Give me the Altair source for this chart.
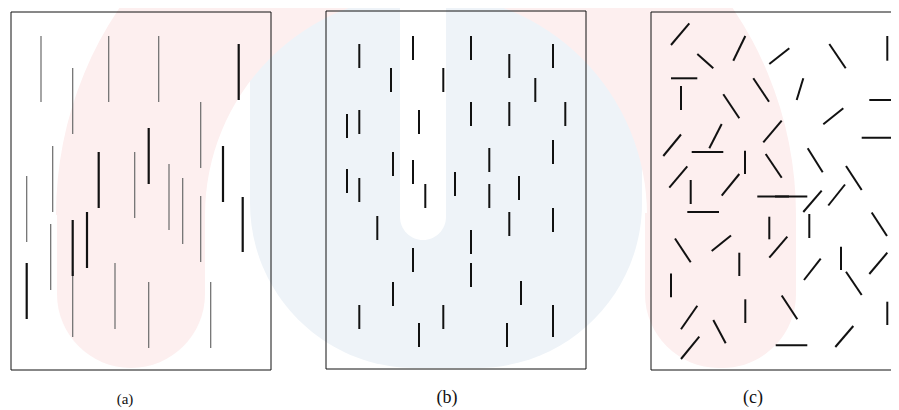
import math
import altair as alt
import pandas as pd

# ---------------- data (page pixel coordinates) ----------------
# panel (a): vertical segments, x, top, bottom, weight
A_X = [41, 72.7, 108.7, 158.7, 238.7, 200.7, 52.7, 98.7, 134.7, 148.7, 169, 182.7,
       223, 26.7, 50.7, 72.7, 72.7, 87, 200.7, 242.7, 26.7, 115, 148.7, 210.7]
A_Y1 = [36, 68, 36, 36, 44, 102, 146, 152, 152, 128, 164, 178,
        146, 176, 224, 220, 271, 212, 196, 197, 263, 263, 282, 282]
A_Y2 = [102, 134, 102, 102, 100, 168, 212, 208, 218, 184, 230, 244,
        202, 242, 290, 276, 337, 268, 262, 252, 319, 329, 348, 348]
A_W = ["thin", "thin", "thin", "thin", "thick", "thin", "thin", "thick", "thin", "thick", "thin", "thin",
       "thick", "thin", "thin", "thick", "thin", "thick", "thin", "thick", "thick", "thin", "thin", "thin"]

# panel (b): short vertical segments
B_X = [359.3, 413, 471, 509.3, 553, 391, 443.3, 535.3, 347, 359.3, 419, 471, 509.3, 565.3,
       489.3, 553, 393, 413, 347, 359.3, 425.3, 455, 489.3, 519, 377.3, 509.3, 553, 471,
       413, 471, 393, 521, 359.3, 443.3, 419, 507, 553]
B_Y1 = [44, 36, 36, 54, 44, 68, 68, 78, 114, 110, 110, 102, 102, 102,
        148, 140, 152, 160, 169, 178, 184, 172, 184, 176, 216, 212, 208, 230,
        248, 263, 282, 281, 305, 305, 323, 323, 305]
B_Y2 = [68, 60, 60, 78, 68, 92, 92, 102, 138, 134, 134, 126, 126, 126,
        172, 164, 176, 184, 193, 202, 208, 196, 208, 200, 240, 236, 232, 254,
        272, 287, 306, 305, 329, 329, 347, 347, 337]

# panel (c): randomly oriented segments (x1, y1, x2, y2)
C_X1 = [671, 697.3, 733.3, 769.3, 829.3, 887.3, 671, 681, 753.3, 796.7, 723.3, 869.3, 823.3,
        861.7, 663.3, 709.3, 691.7, 763.3, 745, 765.7, 807.7, 846, 898.3, 669.3, 690.7, 721.7,
        687.3, 757.3, 775, 803.3, 828.3, 769.3, 809.3, 871.7, 675, 711.7, 769.3, 739.3, 804,
        841, 869.3, 846, 671, 681, 713.3, 745.3, 781.7, 887.3, 681, 775.7, 835.3]
C_Y1 = [45, 54, 60.7, 64, 44, 36, 78.3, 86, 78.3, 100, 94.3, 100, 124.3,
        137.7, 156, 148.3, 152, 142.3, 150.7, 154, 148.3, 166, 168.3, 187.7, 180, 195.7,
        212, 196.5, 196.5, 212, 205.5, 216.7, 214, 212.5, 238.5, 251, 257.7, 252.7, 280,
        246.7, 274, 271.7, 273.5, 329.3, 320, 299.3, 295.5, 301.7, 359, 345.3, 347]
C_X2 = [689.3, 713.3, 745.3, 789.3, 845.7, 887.3, 697.3, 681, 769, 803.3, 739.3, 899.3, 843.3,
        893.3, 681, 721.7, 723.3, 781.7, 745, 781.7, 822.7, 861.7, 898.3, 687.3, 690.7, 739.3,
        719, 789, 807.3, 821.7, 845, 769.3, 809.3, 887, 690.7, 731, 787.3, 739.3, 820.7,
        841, 887.3, 861.7, 671, 697.3, 725.7, 745.3, 797.3, 887.3, 699.3, 807.3, 853.3]
C_Y2 = [23.3, 68.3, 36, 48.3, 68.3, 60.7, 78.3, 110, 101.7, 78.3, 118.3, 100, 108.3,
        137.7, 134.5, 124, 152, 120.7, 174, 177.7, 172.3, 190, 192, 166.3, 204, 174,
        212, 196.5, 196.5, 190.7, 184.5, 239.3, 238, 236, 262.3, 235.5, 236.7, 276, 258.7,
        270, 252.7, 295, 297.3, 305.7, 343.3, 323, 319.3, 325, 336.7, 345.3, 326]

PANEL_LEFT = [11, 326, 651]
PANEL_TOP = [12, 11, 12]
PANEL_RIGHT = [271, 586, 911]
PANEL_BOTTOM = [370, 369, 370]

LABELS = ["(a)", "(b)", "(c)"]
LABEL_X = [125, 447, 753]
LABEL_Y = [399, 398, 398]
LABEL_SIZE = [15, 18, 18]

# ---------------- tables ----------------
df_a = pd.DataFrame({"x": A_X, "y1": A_Y1, "y2": A_Y2, "w": A_W})
df_b = pd.DataFrame({"x": B_X, "y1": B_Y1, "y2": B_Y2})
df_c = pd.DataFrame({"x1": C_X1, "y1": C_Y1, "x2": C_X2, "y2": C_Y2})
df_t = pd.DataFrame({"label": LABELS, "x": LABEL_X, "y": LABEL_Y, "fs": LABEL_SIZE})

# panel frames as four edges each
edges = []
for l, t, r, b in zip(PANEL_LEFT, PANEL_TOP, PANEL_RIGHT, PANEL_BOTTOM):
    edges += [(l, t, r, t), (l, b, r, b), (l, t, l, b), (r, t, r, b)]
df_e = pd.DataFrame(edges, columns=["x1", "y1", "x2", "y2"])

# faint watermark (background logo)
RED = "#fdefef"
BLUE = "#eef3f8"
df_arch = pd.DataFrame({"cx": [426], "cy": [215]})
df_arms = pd.DataFrame({"l": [57, 645], "r": [205, 796], "t": [213, 213], "b": [368, 368]})
df_blue = pd.DataFrame({"l": [250], "r": [642], "t": [0], "b": [368]})
df_finger = pd.DataFrame({"l": [400], "r": [446], "t": [0], "b": [240]})

# plot area: page pixels 8..891 horizontally, 8..410 vertically (1 unit = 1 px);
# the page body is 883 px wide, a wider chart would be shrunk to fit it.
W, H = 883, 402
xs = alt.Scale(domain=[8, 8 + W], nice=False, zero=False)
ys = alt.Scale(domain=[8, 8 + H], nice=False, zero=False, reverse=True)


def X(f):
    return alt.X(f, type="quantitative", scale=xs, axis=None)


def Y(f):
    return alt.Y(f, type="quantitative", scale=ys, axis=None)


blue = alt.Chart(df_blue).mark_rect(
    color=BLUE, cornerRadiusBottomLeft=165, cornerRadiusBottomRight=165, clip=True
).encode(x=X("l"), x2="r", y=Y("t"), y2="b")

arch = alt.Chart(df_arch).mark_arc(
    color=RED, theta=3 * math.pi / 2, theta2=5 * math.pi / 2, radius=370, radius2=221, clip=True
).encode(x=X("cx"), y=Y("cy"))

arms = alt.Chart(df_arms).mark_rect(
    color=RED, cornerRadiusBottomLeft=74, cornerRadiusBottomRight=74, clip=True
).encode(x=X("l"), x2="r", y=Y("t"), y2="b")

finger = alt.Chart(df_finger).mark_rect(
    color="white", cornerRadiusBottomLeft=23, cornerRadiusBottomRight=23, clip=True
).encode(x=X("l"), x2="r", y=Y("t"), y2="b")

frames = alt.Chart(df_e).mark_rule(color="#111111", strokeWidth=1, clip=True).encode(
    x=X("x1"), y=Y("y1"), x2="x2", y2="y2"
)

a_thin = alt.Chart(df_a).transform_filter(alt.datum.w == "thin").mark_rule(
    color="#6a6a6a", strokeWidth=1.2
).encode(x=X("x"), y=Y("y1"), y2="y2")

a_thick = alt.Chart(df_a).transform_filter(alt.datum.w == "thick").mark_rule(
    color="#111111", strokeWidth=2.2
).encode(x=X("x"), y=Y("y1"), y2="y2")

b_segs = alt.Chart(df_b).mark_rule(color="#111111", strokeWidth=2).encode(
    x=X("x"), y=Y("y1"), y2="y2"
)

c_segs = alt.Chart(df_c).mark_rule(color="#111111", strokeWidth=2, clip=True).encode(
    x=X("x1"), y=Y("y1"), x2="x2", y2="y2"
)

labels = alt.Chart(df_t).mark_text(
    font="Liberation Serif", color="#111111", baseline="middle", align="center"
).encode(x=X("x"), y=Y("y"), text="label:N", size=alt.Size("fs:Q", scale=None, legend=None))

chart = alt.layer(
    blue, arch, arms, finger, frames, a_thin, a_thick, b_segs, c_segs, labels
).properties(
    width=W, height=H, padding=0, autosize=alt.AutoSizeParams(type="none")
).configure_view(stroke=None)

chart.save("out.html", embed_options={"renderer": "svg", "actions": False})
